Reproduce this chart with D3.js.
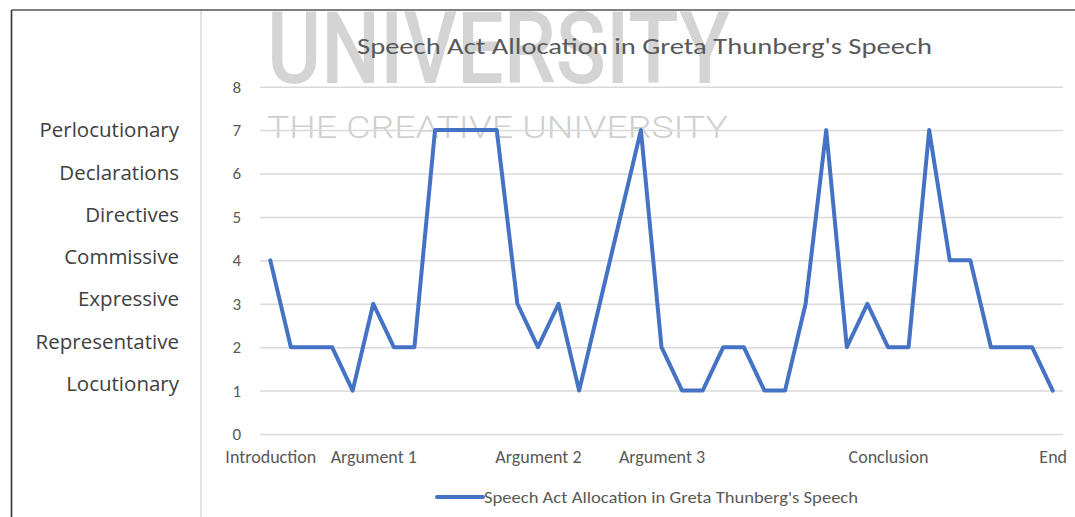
<!DOCTYPE html>
<html>
<head>
<meta charset="utf-8">
<script src="https://cdn.jsdelivr.net/npm/d3@7"></script>
<style>
  html, body { margin: 0; padding: 0; background: #ffffff; }
  svg { display: block; }
</style>
</head>
<body>
<svg id="chart" width="1075" height="517"></svg>
<script>
// Speech act code (1–7) for each segment of the speech, in order
const speechActValues = [4, 2, 2, 2, 1, 3, 2, 2, 7, 7, 7, 7, 3, 2, 3, 1, 3, 5, 7, 2,
                         1, 1, 2, 2, 1, 1, 3, 7, 2, 3, 2, 2, 7, 4, 4, 2, 2, 2, 1];
// Section names shown under the first segment of each section
const sectionLabels = ["Introduction", "", "", "", "", "Argument 1", "", "", "", "", "", "", "", "Argument 2",
                       "", "", "", "", "", "Argument 3", "", "", "", "", "", "", "", "", "", "",
                       "Conclusion", "", "", "", "", "", "", "", "End"];
const yTicks = [0, 1, 2, 3, 4, 5, 6, 7, 8];
// Speech act categories for codes 1..7
const actNames = ["Locutionary", "Representative", "Expressive", "Commissive", "Directives", "Declarations", "Perlocutionary"];
const seriesName = "Speech Act Allocation in Greta Thunberg's Speech";
const chartTitle = "Speech Act Allocation in Greta Thunberg's Speech";

const svg = d3.select("#chart");
const W = 1075, H = 517;
const plot = { left: 260, right: 1063, top: 86.7, bottom: 434 };
const textGray = "#595959";
const calibri = "Carlito, 'Liberation Sans Narrow', 'Open Sans', sans-serif";

const x = d3.scalePoint()
  .domain(d3.range(speechActValues.length))
  .range([plot.left, plot.right])
  .padding(0.5);
const y = d3.scaleLinear().domain([0, 8]).range([plot.bottom, plot.top]);

// frame
svg.append("rect").attr("width", W).attr("height", H).attr("fill", "#fff");
svg.append("line").attr("x1", 11.5).attr("x2", W).attr("y1", 10).attr("y2", 10)
  .attr("stroke", "#555").attr("stroke-width", 1.6);
svg.append("line").attr("x1", 11.5).attr("x2", 11.5).attr("y1", 10).attr("y2", H)
  .attr("stroke", "#333").attr("stroke-width", 1.6);
svg.append("line").attr("x1", 201).attr("x2", 201).attr("y1", 11).attr("y2", H)
  .attr("stroke", "#d9d9d9").attr("stroke-width", 1.5);

// watermark
svg.append("text").attr("x", 267).attr("y", 83)
  .attr("font-family", "Roboto, sans-serif").attr("font-weight", 500).attr("font-size", 100)
  .attr("textLength", 463).attr("lengthAdjust", "spacingAndGlyphs")
  .attr("fill", "#d4d4d4").text("UNIVERSITY");
svg.append("text").attr("x", 267).attr("y", 138)
  .attr("font-family", "Roboto, sans-serif").attr("font-weight", 300).attr("font-size", 32)
  .attr("textLength", 461).attr("lengthAdjust", "spacingAndGlyphs")
  .attr("fill", "#cfcfcf").text("THE CREATIVE UNIVERSITY");

// title
svg.append("text").attr("x", 357).attr("y", 54)
  .attr("font-family", calibri).attr("font-size", 23)
  .attr("textLength", 575).attr("lengthAdjust", "spacingAndGlyphs")
  .attr("fill", textGray).text(chartTitle);

// gridlines + y tick labels
const yAxis = d3.axisLeft(y).tickValues(yTicks).tickSize(-(plot.right - plot.left)).tickPadding(19);
const gy = svg.append("g").attr("transform", `translate(${plot.left},0)`).call(yAxis);
gy.select(".domain").remove();
gy.selectAll(".tick line").attr("stroke", "#d9d9d9").attr("stroke-width", 1.5);
gy.selectAll(".tick text").attr("font-family", calibri).attr("font-size", 17).attr("fill", textGray);

// x axis category labels
const xAxis = d3.axisBottom(x).tickSize(0).tickPadding(16).tickFormat(i => sectionLabels[i]);
const gx = svg.append("g").attr("transform", `translate(0,${plot.bottom})`).call(xAxis);
gx.select(".domain").remove();
gx.selectAll(".tick text").attr("font-family", calibri).attr("font-size", 18).attr("fill", textGray);

// speech act names on the left
const nameY = d3.scaleLinear().domain([1, 7]).range([y(1) - 7, y(7)]);
svg.append("g").selectAll("text").data(actNames).join("text")
  .attr("x", 179).attr("y", (d, i) => nameY(i + 1))
  .attr("dy", "0.35em").attr("text-anchor", "end")
  .attr("font-family", "'Open Sans', sans-serif").attr("font-size", 20.5)
  .attr("fill", "#404040").text(d => d);

// series line
const line = d3.line().x((d, i) => x(i)).y(d => y(d));
svg.append("path").datum(speechActValues)
  .attr("d", line).attr("fill", "none")
  .attr("stroke", "#4472c4").attr("stroke-width", 4)
  .attr("stroke-linejoin", "round").attr("stroke-linecap", "round");

// legend
svg.append("line").attr("x1", 437).attr("x2", 483).attr("y1", 497).attr("y2", 497)
  .attr("stroke", "#4472c4").attr("stroke-width", 4).attr("stroke-linecap", "round");
svg.append("text").attr("x", 484).attr("y", 503)
  .attr("font-family", calibri).attr("font-size", 16)
  .attr("textLength", 374).attr("lengthAdjust", "spacingAndGlyphs")
  .attr("fill", textGray).text(seriesName);
</script>
</body>
</html>
